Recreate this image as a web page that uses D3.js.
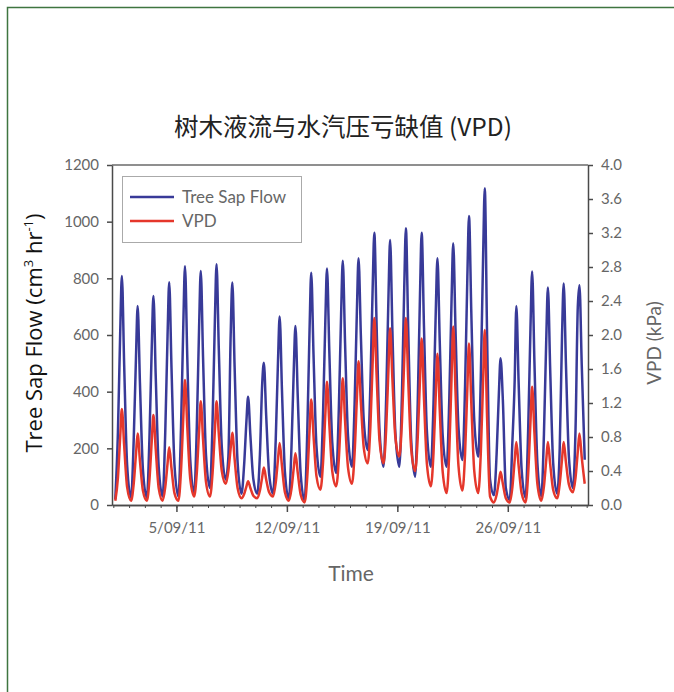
<!DOCTYPE html>
<html>
<head>
<meta charset="utf-8">
<script src="https://cdn.jsdelivr.net/npm/d3@7"></script>
<style>
body { margin: 0; background: #fff; }
</style>
</head>
<body>
<script>
// sample hours within each day
var hours = [3, 7, 10.5, 13, 16.5, 21];

// tree sap flow (cm3 hr-1), one row per day, 1..30 Sept 2011
var sapFlow = [
  [20, 256, 611, 808, 495, 142],
  [25, 228, 523, 702, 431, 127],
  [25, 239, 560, 738, 455, 136],
  [30, 257, 597, 786, 484, 143],
  [30, 274, 640, 843, 522, 160],
  [40, 276, 630, 826, 520, 175],
  [60, 297, 653, 850, 546, 204],
  [90, 170, 600, 785, 487, 152],
  [40, 143, 297, 382, 245, 91],
  [40, 179, 430, 502, 317, 109],
  [40, 228, 509, 665, 407, 117],
  [20, 204, 479, 632, 385, 108],
  [15, 257, 619, 820, 532, 208],
  [100, 321, 651, 835, 546, 221],
  [113, 338, 675, 862, 571, 244],
  [135, 356, 687, 871, 600, 296],
  [194, 424, 769, 961, 631, 259],
  [135, 375, 735, 935, 615, 255],
  [135, 388, 767, 977, 626, 232],
  [100, 358, 746, 961, 631, 259],
  [135, 356, 687, 871, 577, 245],
  [135, 372, 727, 924, 618, 274],
  [159, 417, 805, 1020, 680, 298],
  [171, 455, 881, 1118, 600, 90],
  [35, 180, 397, 518, 370, 60],
  [18, 223, 441, 702, 431, 127],
  [25, 265, 624, 824, 506, 149],
  [30, 251, 584, 768, 477, 149],
  [40, 200, 597, 782, 493, 168],
  [60, 263, 700, 776, 493, 160]
];

// vapour pressure deficit (kPa), same days and hours
var vpd = [
  [0.05, 0.32, 0.81, 1.13, 0.70, 0.21],
  [0.05, 0.25, 0.60, 0.84, 0.52, 0.17],
  [0.05, 0.30, 0.76, 1.06, 0.66, 0.20],
  [0.05, 0.21, 0.49, 0.68, 0.43, 0.14],
  [0.05, 0.41, 1.04, 1.47, 0.92, 0.31],
  [0.10, 0.38, 0.88, 1.22, 0.77, 0.27],
  [0.10, 0.38, 0.88, 1.22, 0.83, 0.40],
  [0.25, 0.40, 0.67, 0.85, 0.54, 0.20],
  [0.08, 0.13, 0.22, 0.28, 0.20, 0.11],
  [0.08, 0.17, 0.33, 0.44, 0.30, 0.15],
  [0.10, 0.26, 0.54, 0.73, 0.46, 0.15],
  [0.05, 0.19, 0.44, 0.61, 0.38, 0.12],
  [0.03, 0.33, 0.88, 1.24, 0.82, 0.34],
  [0.18, 0.50, 1.07, 1.45, 0.96, 0.40],
  [0.22, 0.54, 1.11, 1.49, 0.99, 0.44],
  [0.25, 0.61, 1.26, 1.69, 1.21, 0.67],
  [0.49, 0.92, 1.69, 2.20, 1.52, 0.75],
  [0.49, 0.89, 1.60, 2.08, 1.48, 0.80],
  [0.57, 0.98, 1.71, 2.20, 1.48, 0.67],
  [0.40, 0.79, 1.49, 1.96, 1.26, 0.48],
  [0.22, 0.61, 1.31, 1.78, 1.12, 0.39],
  [0.14, 0.63, 1.51, 2.10, 1.33, 0.46],
  [0.17, 0.60, 1.38, 1.90, 1.20, 0.40],
  [0.14, 0.62, 1.48, 2.06, 1.03, 0.10],
  [0.03, 0.12, 0.28, 0.39, 0.25, 0.08],
  [0.03, 0.21, 0.53, 0.74, 0.46, 0.14],
  [0.03, 0.37, 0.98, 1.39, 0.85, 0.25],
  [0.05, 0.22, 0.53, 0.74, 0.48, 0.18],
  [0.08, 0.25, 0.54, 0.74, 0.50, 0.24],
  [0.15, 0.32, 0.63, 0.84, 0.56, 0.25]
];

var dateTicks = [new Date(2011, 8, 5), new Date(2011, 8, 12), new Date(2011, 8, 19), new Date(2011, 8, 26)];
var dateLabels = ["5/09/11", "12/09/11", "19/09/11", "26/09/11"];
var sapTicks = [0, 200, 400, 600, 800, 1000, 1200];
var vpdTicks = [0, 0.4, 0.8, 1.2, 1.6, 2.0, 2.4, 2.8, 3.2, 3.6, 4.0];

var W = 674, H = 692;
var plotLeft = 112, plotRight = 588, plotTop = 165, plotBottom = 505;
var blue = "#383a98", red = "#e5372b";
var axisColor = "#4a4a4a", labelColor = "#666";
var latin = "Lato, 'Open Sans', sans-serif";

var svg = d3.select("body").append("svg")
    .attr("width", W)
    .attr("height", H);

svg.append("rect")
    .attr("width", W).attr("height", H)
    .attr("fill", "#fff");

// chart area frame (right and bottom fall off the page)
svg.append("rect")
    .attr("x", 7.5).attr("y", 7.5)
    .attr("width", W + 20).attr("height", H + 20)
    .attr("fill", "none")
    .attr("stroke", "#3f7540")
    .attr("stroke-width", 1.5);

var x = d3.scaleTime()
    .domain([new Date(2011, 7, 31, 22), new Date(2011, 9, 1, 2)])
    .range([plotLeft, plotRight]);
var ySap = d3.scaleLinear().domain([0, 1200]).range([plotBottom, plotTop]);
var yVpd = d3.scaleLinear().domain([0, 4]).range([plotBottom, plotTop]);

function toSeries(rows) {
  var out = [];
  rows.forEach(function(row, i) {
    row.forEach(function(v, j) {
      out.push({date: new Date(2011, 8, i + 1, 0, hours[j] * 60), value: v});
    });
  });
  return out;
}
var sapSeries = toSeries(sapFlow);
var vpdSeries = toSeries(vpd);

// title
svg.append("text")
    .attr("x", 343).attr("y", 136)
    .attr("text-anchor", "middle")
    .attr("font-family", "'Noto Sans CJK SC', sans-serif")
    .attr("font-size", 24.5)
    .attr("fill", "#222")
    .text("树木液流与水汽压亏缺值 (VPD)");

// top frame line of plot
svg.append("line")
    .attr("x1", plotLeft).attr("x2", plotRight)
    .attr("y1", plotTop).attr("y2", plotTop)
    .attr("stroke", "#6a6a6a")
    .attr("stroke-width", 1.5);

// data lines
var sapLine = d3.line()
    .x(function(d) { return x(d.date); })
    .y(function(d) { return ySap(d.value); })
    .curve(d3.curveMonotoneX);
var vpdLine = d3.line()
    .x(function(d) { return x(d.date); })
    .y(function(d) { return yVpd(d.value); })
    .curve(d3.curveMonotoneX);

svg.append("path")
    .datum(sapSeries)
    .attr("d", sapLine)
    .attr("fill", "none")
    .attr("stroke", blue)
    .attr("stroke-width", 2.5)
    .attr("stroke-linejoin", "round");

svg.append("path")
    .datum(vpdSeries)
    .attr("d", vpdLine)
    .attr("fill", "none")
    .attr("stroke", red)
    .attr("stroke-width", 2.5)
    .attr("stroke-linejoin", "round");

// axes
function styleAxis(g) {
  g.select(".domain").attr("stroke", axisColor).attr("stroke-width", 1.5);
  g.selectAll(".tick line").attr("stroke", axisColor).attr("stroke-width", 1.5);
  g.selectAll(".tick text")
      .attr("fill", labelColor)
      .attr("font-family", latin)
      .attr("font-size", 15);
}

svg.append("g")
    .attr("transform", "translate(" + plotLeft + ",0)")
    .call(d3.axisLeft(ySap).tickValues(sapTicks).tickFormat(d3.format("d"))
        .tickSize(5).tickSizeOuter(0).tickPadding(8))
    .call(styleAxis);

svg.append("g")
    .attr("transform", "translate(" + plotRight + ",0)")
    .call(d3.axisRight(yVpd).tickValues(vpdTicks).tickFormat(d3.format(".1f"))
        .tickSize(5).tickSizeOuter(0).tickPadding(8))
    .call(styleAxis);

// minor daily ticks
svg.append("g")
    .attr("transform", "translate(0," + plotBottom + ")")
    .call(d3.axisBottom(x).ticks(d3.timeDay.every(1)).tickFormat("").tickSize(3).tickSizeOuter(0))
    .call(styleAxis)
    .call(function(g) { g.selectAll(".tick line").attr("stroke-width", 1); });

svg.append("g")
    .attr("transform", "translate(0," + plotBottom + ")")
    .call(d3.axisBottom(x).tickValues(dateTicks)
        .tickFormat(function(d, i) { return dateLabels[i]; })
        .tickSize(7).tickSizeOuter(0).tickPadding(10))
    .call(styleAxis);

// axis titles
var yTitle = svg.append("text")
    .attr("transform", "translate(42,333) rotate(-90)")
    .attr("text-anchor", "middle")
    .attr("font-family", "'Open Sans', sans-serif")
    .attr("font-size", 22)
    .attr("fill", "#111");
yTitle.append("tspan").text("Tree Sap Flow (cm");
yTitle.append("tspan").attr("dy", -9).attr("font-size", 13).text("3");
yTitle.append("tspan").attr("dy", 9).text(" hr");
yTitle.append("tspan").attr("dy", -9).attr("font-size", 13).text("-1");
yTitle.append("tspan").attr("dy", 9).text(")");

svg.append("text")
    .attr("transform", "translate(661,343) rotate(-90)")
    .attr("text-anchor", "middle")
    .attr("font-family", latin)
    .attr("font-size", 19)
    .attr("fill", labelColor)
    .text("VPD (kPa)");

svg.append("text")
    .attr("x", 351).attr("y", 581)
    .attr("text-anchor", "middle")
    .attr("font-family", latin)
    .attr("font-size", 21)
    .attr("fill", labelColor)
    .text("Time");

// legend
var legend = svg.append("g");
legend.append("rect")
    .attr("x", 122.5).attr("y", 176.5)
    .attr("width", 179).attr("height", 66)
    .attr("fill", "#fff")
    .attr("stroke", "#aaa");

var legendItems = [
  {name: "Tree Sap Flow", color: blue, y: 197},
  {name: "VPD", color: red, y: 221}
];
legendItems.forEach(function(d) {
  legend.append("line")
      .attr("x1", 130).attr("x2", 174)
      .attr("y1", d.y).attr("y2", d.y)
      .attr("stroke", d.color)
      .attr("stroke-width", 2.5);
  legend.append("text")
      .attr("x", 182).attr("y", d.y + 6)
      .attr("font-family", latin)
      .attr("font-size", 17)
      .attr("fill", labelColor)
      .text(d.name);
});
</script>
</body>
</html>
